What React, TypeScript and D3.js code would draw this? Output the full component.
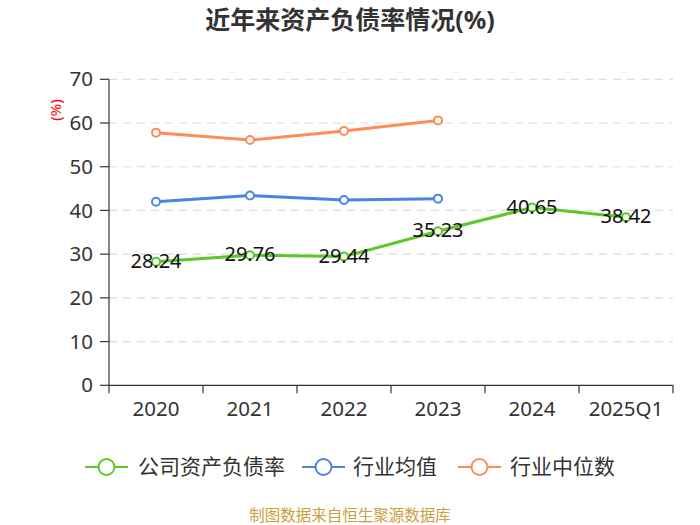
import React from "react";
import * as d3 from "d3";

const categories = ["2020", "2021", "2022", "2023", "2024", "2025Q1"];
const companyRatio = [28.24, 29.76, 29.44, 35.23, 40.65, 38.42];
const industryAvg: (number | null)[] = [42.0, 43.4, 42.4, 42.7, null, null];
const industryMedian: (number | null)[] = [57.8, 56.1, 58.2, 60.6, null, null];
const yTicks = [0, 10, 20, 30, 40, 50, 60, 70];

const seriesDefs = [
  { name: "公司资产负债率", color: "#5bc729", values: companyRatio as (number | null)[], labels: true },
  { name: "行业均值", color: "#4a84e8", values: industryAvg, labels: false },
  { name: "行业中位数", color: "#ff8c55", values: industryMedian, labels: false },
];

const W = 700;
const H = 525;
const left = 109;
const right = 673;
const top = 79.3;
const bottom = 385.3;
const FONT = "'Noto Sans', 'Noto Sans CJK SC', sans-serif";

export default function App() {
  const x = d3.scaleBand<string>().domain(categories).range([left, right]).padding(0);
  const y = d3.scaleLinear().domain([0, 70]).range([bottom, top]);
  const cx = (c: string) => (x(c) as number) + x.bandwidth() / 2;

  const line = d3
    .line<number | null>()
    .defined((d) => d != null)
    .x((_, i) => cx(categories[i]))
    .y((d) => y(d as number));

  const legendItems = [
    { x: 85, textX: 138 },
    { x: 302, textX: 353 },
    { x: 458, textX: 510 },
  ];

  return (
    <svg
      width={W}
      height={H}
      style={{ position: "absolute", left: 0, top: 0, background: "#fff" }}
      fontFamily={FONT}
    >
      <text x={350} y={29} textAnchor="middle" fontSize={25} fontWeight="bold" fill="#333">
        近年来资产负债率情况(%)
      </text>

      {/* grid */}
      {yTicks.map((t) =>
        t === 0 ? null : (
          <line
            key={"g" + t}
            x1={left}
            x2={right}
            y1={y(t)}
            y2={y(t)}
            stroke="#dcdcdc"
            strokeWidth={1.2}
            strokeDasharray="8,6"
          />
        )
      )}

      {/* y axis */}
      <line x1={left} x2={left} y1={top} y2={bottom} stroke="#333" strokeWidth={1.2} />
      {yTicks.map((t) => (
        <g key={"y" + t}>
          <line x1={left - 9} x2={left} y1={y(t)} y2={y(t)} stroke="#333" strokeWidth={1.2} />
          <text x={left - 16} y={y(t)} dy="0.35em" textAnchor="end" fontSize={20.5} fill="#333">
            {t}
          </text>
        </g>
      ))}
      <text
        transform={`translate(56,110) rotate(-90)`}
        textAnchor="middle"
        dy="0.35em"
        fontSize={15}
        fill="#ff0000"
      >
        (%)
      </text>

      {/* x axis */}
      <line x1={left} x2={right} y1={bottom} y2={bottom} stroke="#333" strokeWidth={1.2} />
      {categories.map((c, i) => (
        <line
          key={"xt" + i}
          x1={x(c) as number}
          x2={x(c) as number}
          y1={bottom}
          y2={bottom + 8}
          stroke="#333"
          strokeWidth={1.2}
        />
      ))}
      <line x1={right} x2={right} y1={bottom} y2={bottom + 8} stroke="#333" strokeWidth={1.2} />
      {categories.map((c) => (
        <text key={"xl" + c} x={cx(c)} y={416} textAnchor="middle" fontSize={20.5} fill="#333">
          {c}
        </text>
      ))}

      {/* series */}
      {seriesDefs.map((s) => (
        <g key={s.name}>
          <path d={line(s.values) || ""} fill="none" stroke={s.color} strokeWidth={3} />
          {s.values.map((v, i) =>
            v == null ? null : (
              <circle
                key={i}
                cx={cx(categories[i])}
                cy={y(v)}
                r={4}
                fill="#fff"
                stroke={s.color}
                strokeWidth={2}
              />
            )
          )}
        </g>
      ))}
      {seriesDefs
        .filter((s) => s.labels)
        .map((s) =>
          s.values.map((v, i) =>
            v == null ? null : (
              <text
                key={s.name + i}
                x={cx(categories[i])}
                y={y(v) + 6}
                textAnchor="middle"
                fontSize={20}
                fill="#111"
              >
                {v.toFixed(2)}
              </text>
            )
          )
        )}

      {/* legend */}
      {seriesDefs.map((s, i) => (
        <g key={"lg" + i}>
          <line
            x1={legendItems[i].x}
            x2={legendItems[i].x + 43}
            y1={467}
            y2={467}
            stroke={s.color}
            strokeWidth={2}
          />
          <circle cx={legendItems[i].x + 21.5} cy={467} r={8} fill="#fff" stroke={s.color} strokeWidth={2} />
          <text x={legendItems[i].textX} y={467} dy="0.35em" fontSize={21} fill="#333">
            {s.name}
          </text>
        </g>
      ))}

      <text x={350} y={521} textAnchor="middle" fontSize={15.5} fill="#c9a03c">
        制图数据来自恒生聚源数据库
      </text>
    </svg>
  );
}
